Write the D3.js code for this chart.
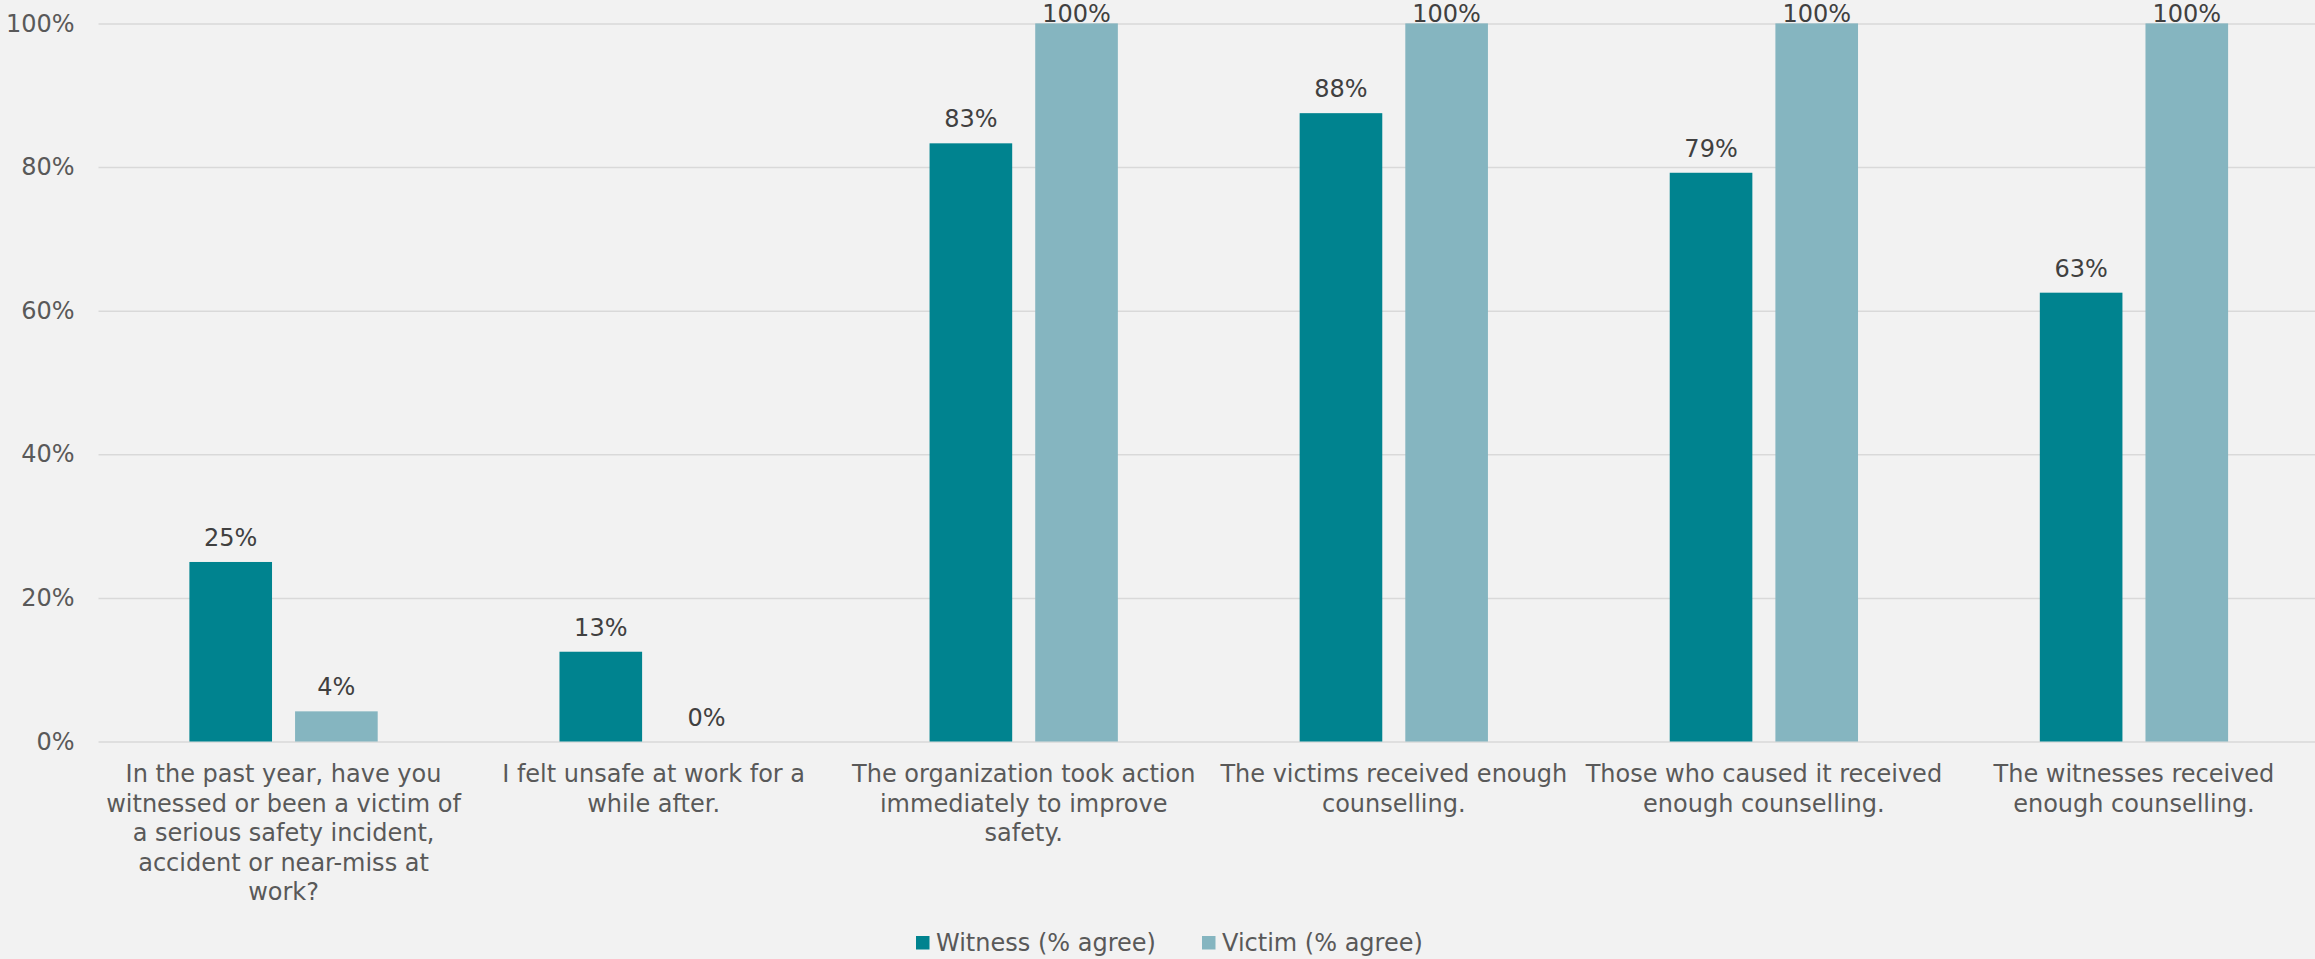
<!DOCTYPE html>
<html>
<head>
<meta charset="utf-8">
<script src="https://cdn.jsdelivr.net/npm/d3@7"></script>
<style>
  html, body { margin: 0; padding: 0; background: #f2f2f2; }
  svg { display: block; }
  text { font-family: "DejaVu Sans", Verdana, sans-serif; }
</style>
</head>
<body>
<svg id="chart" width="2315" height="959"></svg>
<script>
// ---- Data ----
const categories = [
  "In the past year, have you witnessed or been a victim of a serious safety incident, accident or near-miss at work?",
  "I felt unsafe at work for a while after.",
  "The organization took action immediately to improve safety.",
  "The victims received enough counselling.",
  "Those who caused it received enough counselling.",
  "The witnesses received enough counselling."
];
const categoryLines = [
  ["In the past year, have you", "witnessed or been a victim of", "a serious safety incident,", "accident or near-miss at", "work?"],
  ["I felt unsafe at work for a", "while after."],
  ["The organization took action", "immediately to improve", "safety."],
  ["The victims received enough", "counselling."],
  ["Those who caused it received", "enough counselling."],
  ["The witnesses received", "enough counselling."]
];
const seriesNames = ["Witness (% agree)", "Victim (% agree)"];
const witness = [25, 12.5, 83.3, 87.5, 79.2, 62.5];
const victim = [4.2, 0, 100, 100, 100, 100];
const yTicks = [0, 20, 40, 60, 80, 100];
const colors = ["#00838f", "#85b5c0"];

// ---- Layout ----
const svg = d3.select("#chart");
const plotLeft = 98.5, plotRight = 2319, plotTop = 23.4, plotBottom = 741.5;

const x0 = d3.scaleBand().domain(d3.range(categories.length)).range([plotLeft, plotRight]).padding(0);
const groupW = 188.3;
const bw0 = x0.bandwidth();
const x1 = d3.scaleBand().domain([0, 1])
  .range([(bw0 - groupW) / 2, (bw0 + groupW) / 2])
  .paddingInner(0.218).paddingOuter(0);
const y = d3.scaleLinear().domain([0, 100]).range([plotBottom, plotTop]);

// Gridlines + y axis
const yAxis = d3.axisLeft(y).tickValues(yTicks).tickFormat(d => d + "%")
  .tickSize(-(plotRight - plotLeft)).tickPadding(24);
const gy = svg.append("g").attr("transform", `translate(${plotLeft},0)`).call(yAxis);
gy.select(".domain").remove();
gy.selectAll(".tick line").attr("stroke", "#d9d9d9").attr("stroke-width", 1.5);
gy.selectAll(".tick text").attr("fill", "#595959").attr("font-size", 24)
  .attr("font-family", "'DejaVu Sans', Verdana, sans-serif");

// Bars
const data = categories.map((c, i) => ({ i, vals: [witness[i], victim[i]] }));
const groups = svg.append("g").selectAll("g").data(data).join("g")
  .attr("transform", d => `translate(${x0(d.i)},0)`);
groups.selectAll("rect").data(d => d.vals.map((v, s) => ({ v, s }))).join("rect")
  .attr("x", d => x1(d.s))
  .attr("width", x1.bandwidth())
  .attr("y", d => y(d.v))
  .attr("height", d => y(0) - y(d.v))
  .attr("fill", d => colors[d.s]);

// Data labels
groups.selectAll("text.lbl").data(d => d.vals.map((v, s) => ({ v, s }))).join("text")
  .attr("class", "lbl")
  .attr("x", d => x1(d.s) + x1.bandwidth() / 2)
  .attr("y", d => Math.max(y(d.v) - 16, 22))
  .attr("text-anchor", "middle")
  .attr("font-size", 24)
  .attr("fill", "#404040")
  .text(d => Math.round(d.v) + "%");

// Category labels
const catG = svg.append("g");
categoryLines.forEach((lines, i) => {
  const t = catG.append("text")
    .attr("text-anchor", "middle")
    .attr("font-size", 24)
    .attr("fill", "#595959");
  lines.forEach((ln, k) => {
    t.append("tspan")
      .attr("x", x0(i) + bw0 / 2)
      .attr("y", 782 + k * 29.6)
      .text(ln);
  });
});

// Legend
const legendX = [916, 1202];
const lg = svg.append("g");
seriesNames.forEach((name, s) => {
  lg.append("rect").attr("x", legendX[s]).attr("y", 936).attr("width", 13.5).attr("height", 13.5)
    .attr("fill", colors[s]);
  lg.append("text").attr("x", legendX[s] + 20).attr("y", 950.5)
    .attr("font-size", 24).attr("fill", "#595959").text(name);
});
</script>
</body>
</html>
